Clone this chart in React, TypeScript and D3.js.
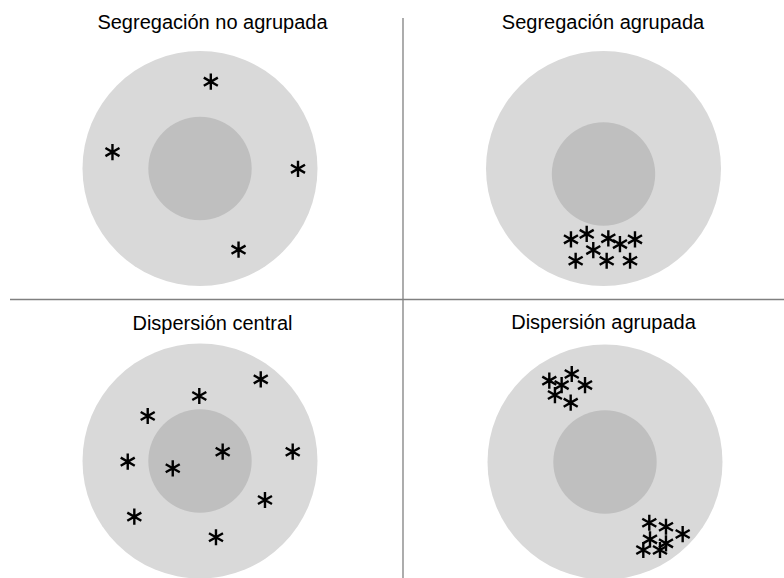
import React, { useEffect, useRef } from "react";
import * as d3 from "d3";

// Panel titles
const titles = [
  "Segregación no agrupada",
  "Segregación agrupada",
  "Dispersión central",
  "Dispersión agrupada",
];

// Asterisk positions in circle units (outer radius = 100, y up)
const panel1Points: [number, number][] = [
  [9.2, 73.9],
  [-74.5, 14.0],
  [83.4, -0.3],
  [32.8, -69.1],
];
const panel2Points: [number, number][] = [
  [-27.7, -60.3],
  [-14.3, -55.7],
  [4.1, -59.4],
  [14.0, -64.3],
  [26.8, -60.3],
  [-8.7, -69.4],
  [-23.7, -78.5],
  [2.7, -78.5],
  [22.6, -78.5],
];
const panel3Points: [number, number][] = [
  [51.7, 69.5],
  [-0.6, 55.3],
  [-44.5, 38.3],
  [19.3, 7.9],
  [78.9, 7.9],
  [-61.5, -0.6],
  [-23.2, -6.2],
  [55.3, -33.2],
  [-55.9, -47.4],
  [13.6, -64.9],
];
const panel4Points: [number, number][] = [
  [-47.4, 69.2],
  [-28.3, 74.9],
  [-36.9, 65.5],
  [-17.0, 65.5],
  [-42.6, 57.0],
  [-29.2, 50.5],
  [37.7, -51.7],
  [51.9, -55.1],
  [66.1, -61.3],
  [38.3, -65.8],
  [51.9, -69.2],
  [32.6, -74.9],
  [46.8, -74.9],
];
const pointsByPanel = [panel1Points, panel2Points, panel3Points, panel4Points];

// Inner circle radius (relative to outer = 100) and vertical offset of inner circle
const innerRadius = [44, 44, 44, 44];
const innerOffsetY = [0, -4.7, 0, 0];

export default function App() {
  const ref = useRef<SVGSVGElement | null>(null);

  useEffect(() => {
    const W = 784;
    const H = 578;
    const svg = d3.select(ref.current);
    svg.selectAll("*").remove();

    svg.append("rect").attr("width", W).attr("height", H).attr("fill", "#ffffff");

    const layout = [
      { cx: 200, cy: 168.5, tx: 212.5, ty: 29 },
      { cx: 603.5, cy: 168.5, tx: 603, ty: 29 },
      { cx: 200, cy: 461, tx: 212.5, ty: 330 },
      { cx: 605, cy: 462, tx: 603.5, ty: 329 },
    ];
    const R = 117.5;

    const symbol = d3.symbol().type(d3.symbolAsterisk).size(185);

    layout.forEach((p, i) => {
      const x = d3.scaleLinear().domain([-100, 100]).range([p.cx - R, p.cx + R]);
      const y = d3.scaleLinear().domain([-100, 100]).range([p.cy + R, p.cy - R]);
      const g = svg.append("g");

      g.append("circle")
        .attr("cx", x(0))
        .attr("cy", y(0))
        .attr("r", x(100) - x(0))
        .attr("fill", "#d9d9d9");

      g.append("circle")
        .attr("cx", x(0))
        .attr("cy", y(innerOffsetY[i]))
        .attr("r", x(innerRadius[i]) - x(0))
        .attr("fill", "#bfbfbf");

      g.selectAll("path.star")
        .data(pointsByPanel[i])
        .enter()
        .append("path")
        .attr("class", "star")
        .attr("d", symbol() as string)
        .attr("transform", (d) => `translate(${x(d[0])},${y(d[1])})`)
        .attr("fill", "none")
        .attr("stroke", "#000000")
        .attr("stroke-width", 2.4);

      g.append("text")
        .attr("x", p.tx)
        .attr("y", p.ty)
        .attr("text-anchor", "middle")
        .attr("font-family", "'Liberation Sans', Arial, sans-serif")
        .attr("font-size", 20)
        .attr("fill", "#000000")
        .text(titles[i]);
    });

    // Divider lines
    svg.append("line")
      .attr("x1", 10).attr("x2", 784)
      .attr("y1", 299.5).attr("y2", 299.5)
      .attr("stroke", "#808080").attr("stroke-width", 1.3);
    svg.append("line")
      .attr("x1", 403).attr("x2", 403)
      .attr("y1", 18).attr("y2", 578)
      .attr("stroke", "#808080").attr("stroke-width", 1.3);
  }, []);

  return (
    <svg
      ref={ref}
      width={784}
      height={578}
      style={{ position: "absolute", left: 0, top: 0, display: "block" }}
    />
  );
}
